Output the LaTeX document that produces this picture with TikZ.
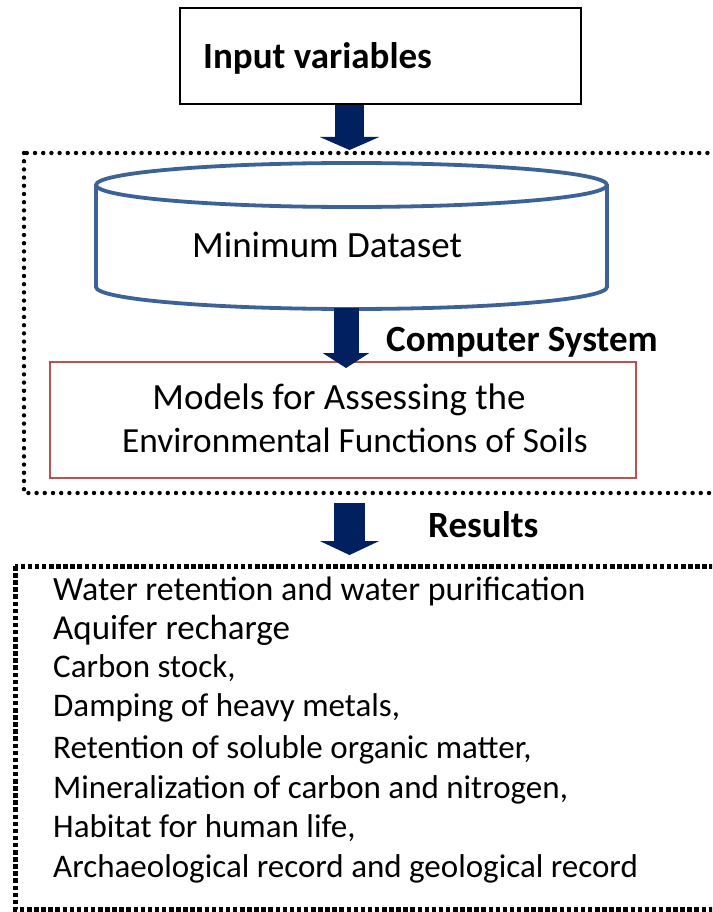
\documentclass[tikz,border=0pt]{standalone}
\usepackage{fontspec}
\setmainfont{Carlito}
\usetikzlibrary{arrows.meta}
\definecolor{navy}{HTML}{002060}
\definecolor{cylblue}{HTML}{3D6396}
\definecolor{boxred}{HTML}{C0504D}
\tikzset{
  dotframe/.style={line width=4.4pt, line cap=round, dash pattern=on 0pt off 8.2pt},
  sqframe/.style={line width=5pt, line cap=butt, dash pattern=on 4.5pt off 2.6pt},
  blockarrow/.style={navy, line cap=butt},
  lbl/.style={inner sep=0pt, anchor=base west},
  res/.style={inner sep=0pt, anchor=base west, font=\fontsize{33}{40}\selectfont},
  big/.style={font=\fontsize{37}{44}\selectfont},
  bigb/.style={font=\fontsize{37}{44}\selectfont\bfseries}
}
\begin{document}
\begin{tikzpicture}[x=1pt,y=-1pt]
\useasboundingbox (0,0) rectangle (712,912);
\clip (0,0) rectangle (712,912);
\fill[white] (0,0) rectangle (712,912);

% input box
\node (input) [draw, line width=1.8pt, minimum width=401pt, minimum height=96pt, inner sep=0pt] at (380.5,56) {};
\node (inputlbl) [lbl, bigb] at (203,69) {Input variables};

% computer system frame
\draw[dotframe] (24,153) rectangle (735,493);

% cylinder
\draw[cylblue, line width=3.8pt] (351.5,185) ellipse [x radius=255.5pt, y radius=22pt];
\draw[cylblue, line width=3.8pt] (96,185) -- (96,287) arc[start angle=180, end angle=360, x radius=255.5pt, y radius=22pt] -- (607,185);
\node (mds) [lbl, big] at (192,257) {Minimum Dataset};
\coordinate (cylbottom) at (346,308);

\node (cs) [lbl, bigb] at (386,351) {Computer System};

% models box
\node (models) [draw=boxred, line width=1.8pt, minimum width=586pt, minimum height=116pt, inner sep=0pt] at (343,420) {};
\node (ml1) [anchor=base, inner sep=0pt, big] at (339,409) {Models for Assessing the};
\node (ml2) [anchor=base, inner sep=0pt, font=\fontsize{35.3}{42}\selectfont] at (355,452) {Environmental Functions of Soils};

\node (resl) [lbl, bigb] at (428,537) {Results};

% results frame
\draw[sqframe] (15,566) rectangle (735,909);
\node (r1) [res, font=\fontsize{33.9}{40}\selectfont] at (53,600) {Water retention and water purification};
\node (r2) [res, font=\fontsize{35}{40}\selectfont] at (53,639) {Aquifer recharge};
\node (r3) [res] at (53,677) {Carbon stock,};
\node (r4) [res] at (53,716) {Damping of heavy metals,};
\node (r5) [res] at (53,758) {Retention of soluble organic matter,};
\node (r6) [res] at (53,798) {Mineralization of carbon and nitrogen,};
\node (r7) [res] at (53,837) {Habitat for human life,};
\node (r8) [res] at (53,877) {Archaeological record and geological record};

% arrows
\coordinate (a1s) at (input.south -| 349.5,0);
\coordinate (a1e) at (349.5,150);
\draw[blockarrow, line width=29pt, -{Triangle[width=59pt, length=13pt]}] (a1s) -- (a1e);
\coordinate (a2e) at (346,368);
\draw[blockarrow, line width=25pt, -{Triangle[width=46pt, length=15pt]}] (cylbottom) -- (a2e);
\coordinate (a3s) at (349.5,503);
\coordinate (a3e) at (349.5,555);
\draw[blockarrow, line width=31pt, -{Triangle[width=59pt, length=14pt]}] (a3s) -- (a3e);
\end{tikzpicture}
\end{document}
